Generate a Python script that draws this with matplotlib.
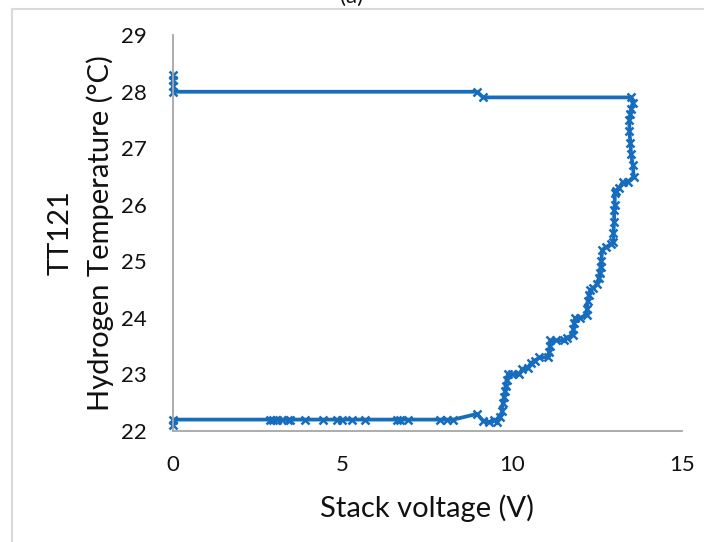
import matplotlib
matplotlib.use("Agg")
import matplotlib.pyplot as plt
from matplotlib.lines import Line2D

plt.rcParams["font.family"] = ["Lato", "DejaVu Sans"]

BLUE = "#166CBD"
GREY = "#A6A6A6"
TEXT = "#111111"

# stack voltage (V) and hydrogen temperature TT121 (deg C)
voltage = [
    0.0, 0.0, 2.86, 2.95, 3.06, 3.21, 3.39, 3.45, 3.89, 4.42, 4.83, 4.98,
    5.28, 5.66, 6.6, 6.69, 6.93, 7.87, 8.08, 8.26, 8.96, 9.14, 9.3, 9.45,
    9.55, 9.65, 9.7, 9.72, 9.75, 9.78, 9.8, 9.83, 9.87, 10.0, 10.2, 10.3,
    10.46, 10.55, 10.66, 10.8, 11.06, 11.08, 11.1, 11.12, 11.3, 11.52, 11.6,
    11.79, 11.8, 11.82, 11.85, 12.0, 12.19, 12.2, 12.22, 12.25, 12.3, 12.38,
    12.5, 12.55, 12.57, 12.6, 12.62, 12.65, 12.75, 12.9, 12.98, 12.98, 13.0,
    13.0, 13.02, 13.02, 13.05, 13.15, 13.25, 13.4, 13.58, 13.55, 13.5, 13.48,
    13.45, 13.45, 13.48, 13.5, 13.55, 13.5, 9.14, 8.96, 0.0, 0.0, 0.0, 0.0,
]
temperature = [
    22.1, 22.2, 22.2, 22.2, 22.2, 22.2, 22.2, 22.2, 22.2, 22.2, 22.2, 22.2,
    22.2, 22.2, 22.2, 22.2, 22.2, 22.2, 22.2, 22.2, 22.3, 22.18, 22.15, 22.2,
    22.15, 22.25, 22.35, 22.5, 22.6, 22.7, 22.8, 22.9, 23.0, 23.0, 23.0,
    23.1, 23.12, 23.2, 23.24, 23.3, 23.3, 23.4, 23.5, 23.6, 23.6, 23.6,
    23.65, 23.7, 23.8, 23.9, 24.0, 24.0, 24.05, 24.15, 24.3, 24.4, 24.5,
    24.52, 24.6, 24.7, 24.8, 24.9, 25.0, 25.2, 25.25, 25.3, 25.34, 25.5,
    25.7, 25.9, 26.0, 26.2, 26.25, 26.3, 26.4, 26.4, 26.5, 26.7, 26.9,
    27.1, 27.3, 27.5, 27.6, 27.7, 27.8, 27.9, 27.9, 28.0, 28.0, 28.1,
    28.2, 28.3,
]

x_ticks = [0, 5, 10, 15]
y_ticks = [22, 23, 24, 25, 26, 27, 28, 29]

fig = plt.figure(figsize=(7.04, 5.42), dpi=100)
ax = fig.add_axes([0.2457, 0.205, 0.723, 0.730])

ax.plot(voltage, temperature, "-x", color=BLUE, lw=2.7,
        markersize=6, markeredgewidth=1.8, clip_on=False)

ax.set_xlim(0, 15)
ax.set_ylim(22, 29)
ax.set_xticks(x_ticks)
ax.set_yticks(y_ticks)
ax.tick_params(length=0, labelsize=16, colors=TEXT)
ax.tick_params(axis="y", pad=19)
ax.tick_params(axis="x", pad=17)

for s in ["top", "right"]:
    ax.spines[s].set_visible(False)
for s in ["bottom", "left"]:
    ax.spines[s].set_color(GREY)
    ax.spines[s].set_linewidth(1.3)

ax.set_xlabel("Stack voltage (V)", fontsize=21, color=TEXT, labelpad=14)
ax.set_ylabel("TT121\nHydrogen Temperature (°C)", fontsize=21,
              color=TEXT, labelpad=5, linespacing=1.55)

# outer chart frame (light grey) and the cut-off panel caption
fig.add_artist(Line2D([12 / 704, 1.0], [533 / 542, 533 / 542],
                      color="#D9D9D9", lw=1.5))
fig.add_artist(Line2D([12 / 704, 12 / 704], [0.0, 533 / 542],
                      color="#D9D9D9", lw=1.5))
fig.text(352 / 704, 1 - 3 / 542, "(a)", fontsize=16, ha="center",
         va="baseline", color=TEXT)

fig.savefig("out.png", dpi=100)
